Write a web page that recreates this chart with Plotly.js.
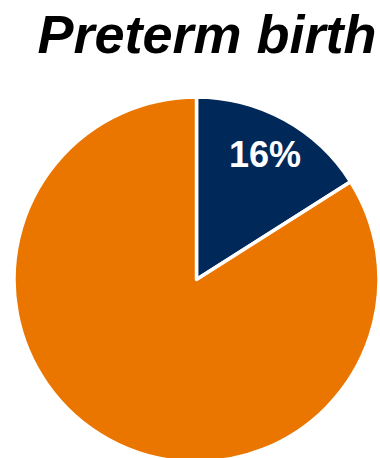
<!DOCTYPE html>
<html>
<head>
<meta charset="utf-8">
<script src="https://cdn.plot.ly/plotly-3.0.1.min.js"></script>
<style>
html,body{margin:0;padding:0;overflow:hidden;background:#fff;}
#chart{width:380px;height:470px;}
</style>
</head>
<body>
<div id="chart"></div>
<script>
var chartTitle = "Preterm birth";
var categories = ["Preterm", "Term"];
var values = [16, 84];
var sliceLabels = ["16%", ""];
var colors = ["#00295A", "#EA7600"];

var W = 380, H = 470;
var margin = {l: 14, r: 1, t: 97, b: 8};

// label position: middle angle of the first slice, at 0.78 of radius
var total = values.reduce(function(a, b){ return a + b; }, 0);
var midAngle = (values[0] / total) * Math.PI;
var plotW = W - margin.l - margin.r, plotH = H - margin.t - margin.b;
var R = Math.min(plotW, plotH) / 2;
var cx = margin.l + plotW / 2, cy = margin.t + plotH / 2;
var lx = cx + 0.78 * R * Math.sin(midAngle);
var ly = cy - 0.78 * R * Math.cos(midAngle);

var trace = {
  type: "pie",
  labels: categories,
  values: values,
  sort: false,
  direction: "clockwise",
  rotation: 0,
  textinfo: "none",
  hoverinfo: "label+percent",
  marker: {colors: colors, line: {color: "#ffffff", width: 3.5}},
  showlegend: false
};

var layout = {
  width: W,
  height: H,
  margin: margin,
  paper_bgcolor: "#ffffff",
  plot_bgcolor: "#ffffff",
  showlegend: false,
  title: {
    text: chartTitle,
    x: 207 / W,
    xanchor: "center",
    xref: "container",
    yref: "container",
    y: 1 - 34 / H,
    yanchor: "middle",
    font: {family: "Liberation Sans, Arial, sans-serif", size: 54, color: "#000000", weight: "bold", style: "italic"}
  },
  annotations: [{
    text: sliceLabels[0],
    xref: "paper", yref: "paper",
    x: (lx - margin.l) / plotW,
    y: 1 - (ly - margin.t) / plotH,
    xanchor: "center", yanchor: "middle",
    showarrow: false,
    font: {family: "Liberation Sans, Arial, sans-serif", size: 36, color: "#ffffff", weight: "bold"}
  }]
};

Plotly.newPlot("chart", [trace], layout, {displayModeBar: false, staticPlot: true});
</script>
</body>
</html>
